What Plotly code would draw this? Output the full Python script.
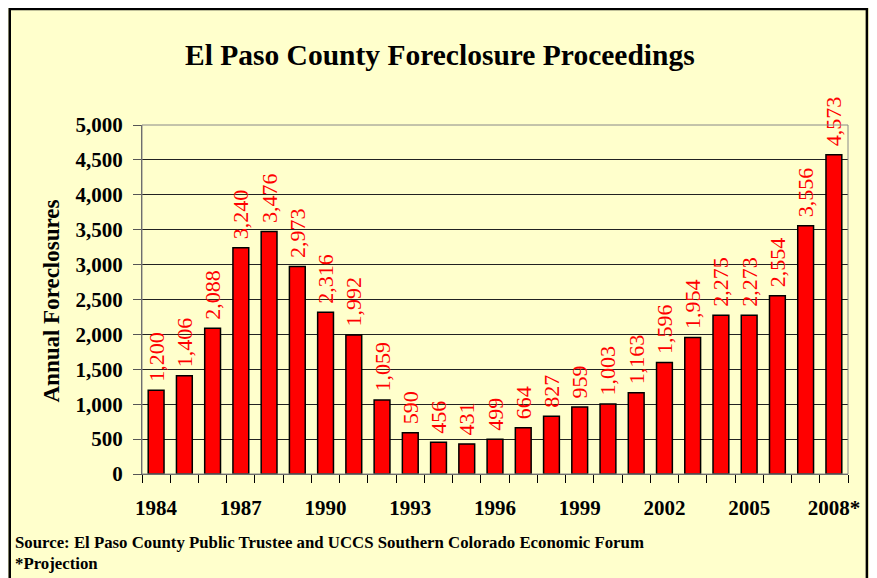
import plotly.graph_objects as go

years = [str(y) for y in range(1984, 2008)] + ["2008*"]
foreclosures = [1200, 1406, 2088, 3240, 3476, 2973, 2316, 1992, 1059, 590, 456, 431,
                499, 664, 827, 959, 1003, 1163, 1596, 1954, 2275, 2273, 2554, 3556, 4573]
y_ticks = list(range(0, 5001, 500))
title_text = "El Paso County Foreclosure Proceedings"
y_title = "Annual Foreclosures"
source_text = "Source: El Paso County Public Trustee and UCCS Southern Colorado Economic Forum"
note_text = "*Projection"

SERIF = "Liberation Serif, Times New Roman, serif"
idx = list(range(len(years)))
label_idx = idx[::3]

fig = go.Figure()
fig.add_trace(go.Bar(
    x=idx, y=foreclosures, width=0.56,
    marker=dict(color="#FF0000", line=dict(color="#000000", width=1.5)),
    texttemplate="\u00a0%{y:,}", textposition="outside", textangle=-90,
    textfont=dict(family=SERIF, size=22, color="#FF0000"),
    constraintext="none", cliponaxis=False, hoverinfo="skip",
))

# figure coordinates (page body margin puts the figure at 8,8 in the screenshot)
W, H = 864, 570
L, R, T, B = 134, 20, 117, 104
pw, ph = W - L - R, H - T - B

def px(x):
    return (x - L) / pw

def py(y):
    return (H - B - y) / ph

fig.update_layout(
    width=W, height=H,
    margin=dict(l=L, r=R, t=T, b=B),
    paper_bgcolor="#FFFFCC", plot_bgcolor="rgba(0,0,0,0)",
    showlegend=False,
    xaxis=dict(
        range=[-0.5, len(years) - 0.5],
        tickmode="array", tickvals=label_idx, ticktext=[years[i] for i in label_idx],
        ticks="outside", ticklen=0,
        minor=dict(tickmode="array", tickvals=[i - 0.5 for i in idx] + [len(idx) - 0.5],
                   ticks="outside", ticklen=8, tickcolor="#000000", tickwidth=1),
        tickfont=dict(family=SERIF, size=21, color="#000000", weight="bold"),
        ticklabelstandoff=15,
        showline=True, linecolor="#555555", linewidth=1,
        showgrid=False, zeroline=False, fixedrange=True,
    ),
    yaxis=dict(
        range=[0, 5000], tickmode="array", tickvals=y_ticks, tickformat=",",
        ticks="outside", ticklen=8, tickcolor="#555555",
        tickfont=dict(family=SERIF, size=21, color="#000000", weight="bold"),
        ticklabelstandoff=6,
        showline=True, linecolor="#555555", linewidth=1,
        showgrid=True, gridcolor="#222222", gridwidth=1, zeroline=False, fixedrange=True,
    ),
    shapes=[
        dict(type="rect", xref="paper", yref="paper", layer="below",
             x0=px(1), x1=px(W - 1), y0=py(H + 20), y1=py(1),
             fillcolor="rgba(0,0,0,0)", line=dict(color="#000000", width=2.5)),
        dict(type="rect", xref="paper", yref="paper", layer="above",
             x0=0, x1=1, y0=0, y1=1, line=dict(color="#888888", width=1)),
    ],
    annotations=[
        dict(text=title_text, xref="paper", yref="paper", x=px(434), y=py(47),
             xanchor="center", yanchor="middle", showarrow=False,
             font=dict(family=SERIF, size=29.5, color="#000000", weight="bold")),
        dict(text=y_title, xref="paper", yref="paper", x=px(42), y=py(293),
             xanchor="center", yanchor="middle", textangle=-90, showarrow=False,
             font=dict(family=SERIF, size=23, color="#000000", weight="bold")),
        dict(text=source_text, xref="paper", yref="paper", x=px(4), y=py(534),
             xanchor="left", yanchor="middle", showarrow=False,
             font=dict(family=SERIF, size=16.8, color="#000000", weight="bold")),
        dict(text=note_text, xref="paper", yref="paper", x=px(4), y=py(555),
             xanchor="left", yanchor="middle", showarrow=False,
             font=dict(family=SERIF, size=16.8, color="#000000", weight="bold")),
    ],
)

fig.write_html("out.html")
